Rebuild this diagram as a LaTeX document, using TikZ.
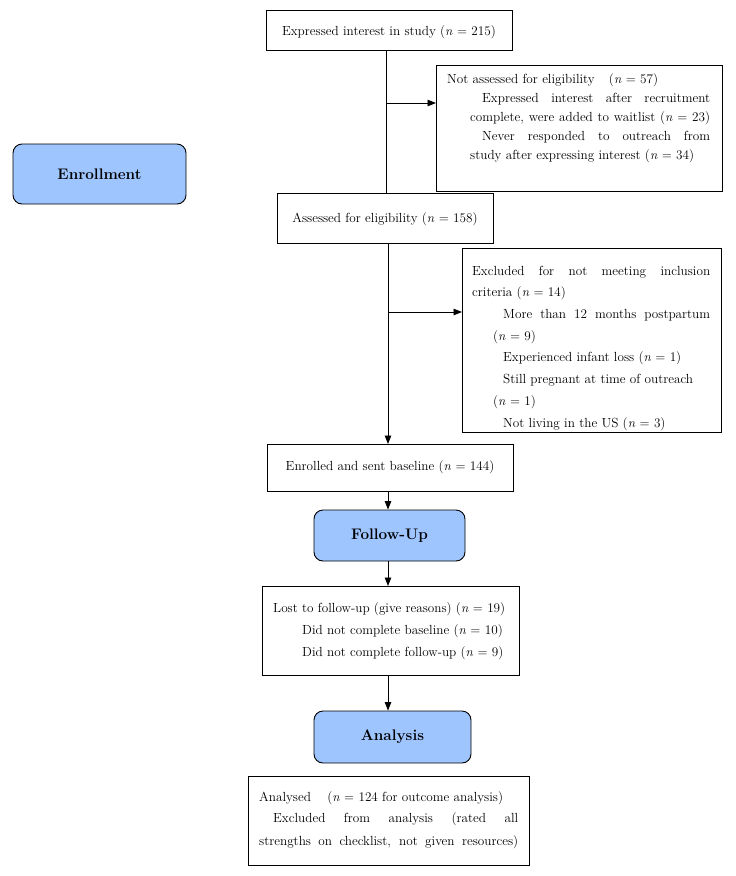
\documentclass[tikz,border=0pt]{standalone}
\usepackage{fontspec}
\setmainfont{Latin Modern Roman}
\usetikzlibrary{arrows.meta}
\definecolor{phaseblue}{RGB}{159,197,255}
\tikzset{
  box/.style={draw, line width=0.9pt, inner sep=0pt, anchor=north west},
  phase/.style={draw, line width=0.9pt, rounded corners=9pt, fill=phaseblue, inner sep=0pt,
     font=\fontsize{15.3}{19}\selectfont\bfseries},
  txt/.style={anchor=base west, inner sep=0pt, font=\fontsize{13.2}{19}\selectfont},
  ctxt/.style={anchor=base, inner sep=0pt, font=\fontsize{13.2}{19}\selectfont},
  conn/.style={line width=0.9pt},
  arr/.style={line width=0.9pt, -{Triangle[length=8.5pt,width=6.5pt]}}
}
\newcommand{\nn}{\textit{n}}
\begin{document}
\begin{tikzpicture}[x=1pt,y=-1pt]
\useasboundingbox (0,0) rectangle (736,876);
% boxes
\node[box, minimum width=246, minimum height=40] (b1) at (266,10) {};
\node[box, minimum width=286, minimum height=126] (b2) at (436,65) {};
\node[box, minimum width=216, minimum height=50] (b3) at (277,193) {};
\node[box, minimum width=259, minimum height=184] (b4) at (462,248) {};
\node[box, minimum width=246, minimum height=47] (b5) at (267,444) {};
\node[box, minimum width=257, minimum height=89] (b6) at (262,586) {};
\node[box, minimum width=281, minimum height=89] (b7) at (248,776) {};
% phases
\node[phase, minimum width=173, minimum height=60] (enr) at (99.5,174) {Enrollment};
\node[phase, minimum width=151, minimum height=51] (fu) at (389.5,535.5) {Follow-Up};
\node[phase, minimum width=157, minimum height=52] (an) at (392.5,737) {Analysis};
% texts
\node[ctxt] (t1) at (389,35) {Expressed interest in study (\nn{} = 215)};
\node[txt] (t2a) at (447,83) {Not assessed for eligibility\hspace{10pt} (\nn{} = 57)};
\node[txt] (t2b) at (482,102) {\makebox[228pt][s]{Expressed interest after recruitment}};
\node[txt] (t2c) at (470,121) {\makebox[240pt][s]{complete, were added to waitlist (\nn{} = 23)}};
\node[txt] (t2d) at (482,140) {\makebox[228pt][s]{Never responded to outreach from}};
\node[txt] (t2e) at (470,159) {study after expressing interest (\nn{} = 34)};
\node[ctxt] (t3) at (385,222) {Assessed for eligibility (\nn{} = 158)};
\node[txt] (t4a) at (472,275) {\makebox[238pt][s]{Excluded for not meeting inclusion}};
\node[txt] (t4b) at (472,296.7) {criteria (\nn{} = 14)};
\node[txt] (t4c) at (503,318.4) {\makebox[207pt][s]{More than 12 months postpartum}};
\node[txt] (t4d) at (493,340) {(\nn{} = 9)};
\node[txt] (t4e) at (503,361.8) {Experienced infant loss (\nn{} = 1)};
\node[txt] (t4f) at (503,383.5) {Still pregnant at time of outreach};
\node[txt] (t4g) at (493,405) {(\nn{} = 1)};
\node[txt] (t4h) at (503,427) {Not living in the US (\nn{} = 3)};
\node[ctxt] (t5) at (390,470) {Enrolled and sent baseline (\nn{} = 144)};
\node[txt] (t6a) at (273,612) {Lost to follow-up (give reasons) (\nn{} = 19)};
\node[txt] (t6b) at (302,634) {Did not complete baseline (\nn{} = 10)};
\node[txt] (t6c) at (302,656) {Did not complete follow-up (\nn{} = 9)};
\node[txt] (t7a) at (259,801) {Analysed\hspace{12pt} (\nn{} = 124 for outcome analysis)};
\node[txt] (t7b) at (273,822) {\makebox[245pt][s]{Excluded from analysis (rated all}};
\node[txt] (t7c) at (259,845) {\makebox[259pt][s]{strengths on checklist, not given resources)}};
% connectors
\coordinate (s1) at (386,0);
\coordinate (s2) at (388,0);
\coordinate (j1) at (386,103);
\coordinate (j2) at (388,312);
\draw[conn] (b1.south -| s1) -- (b3.north -| s1);
\draw[arr] (j1) -- (j1 -| b2.west);
\draw[arr] (b3.south -| s2) -- (b5.north -| s2);
\draw[arr] (j2) -- (j2 -| b4.west);
\draw[arr] (b5.south -| s2) -- (fu.north -| s2);
\draw[arr] (fu.south -| s2) -- (b6.north -| s2);
\draw[arr] (b6.south -| s2) -- (an.north -| s2);
\end{tikzpicture}
\end{document}
